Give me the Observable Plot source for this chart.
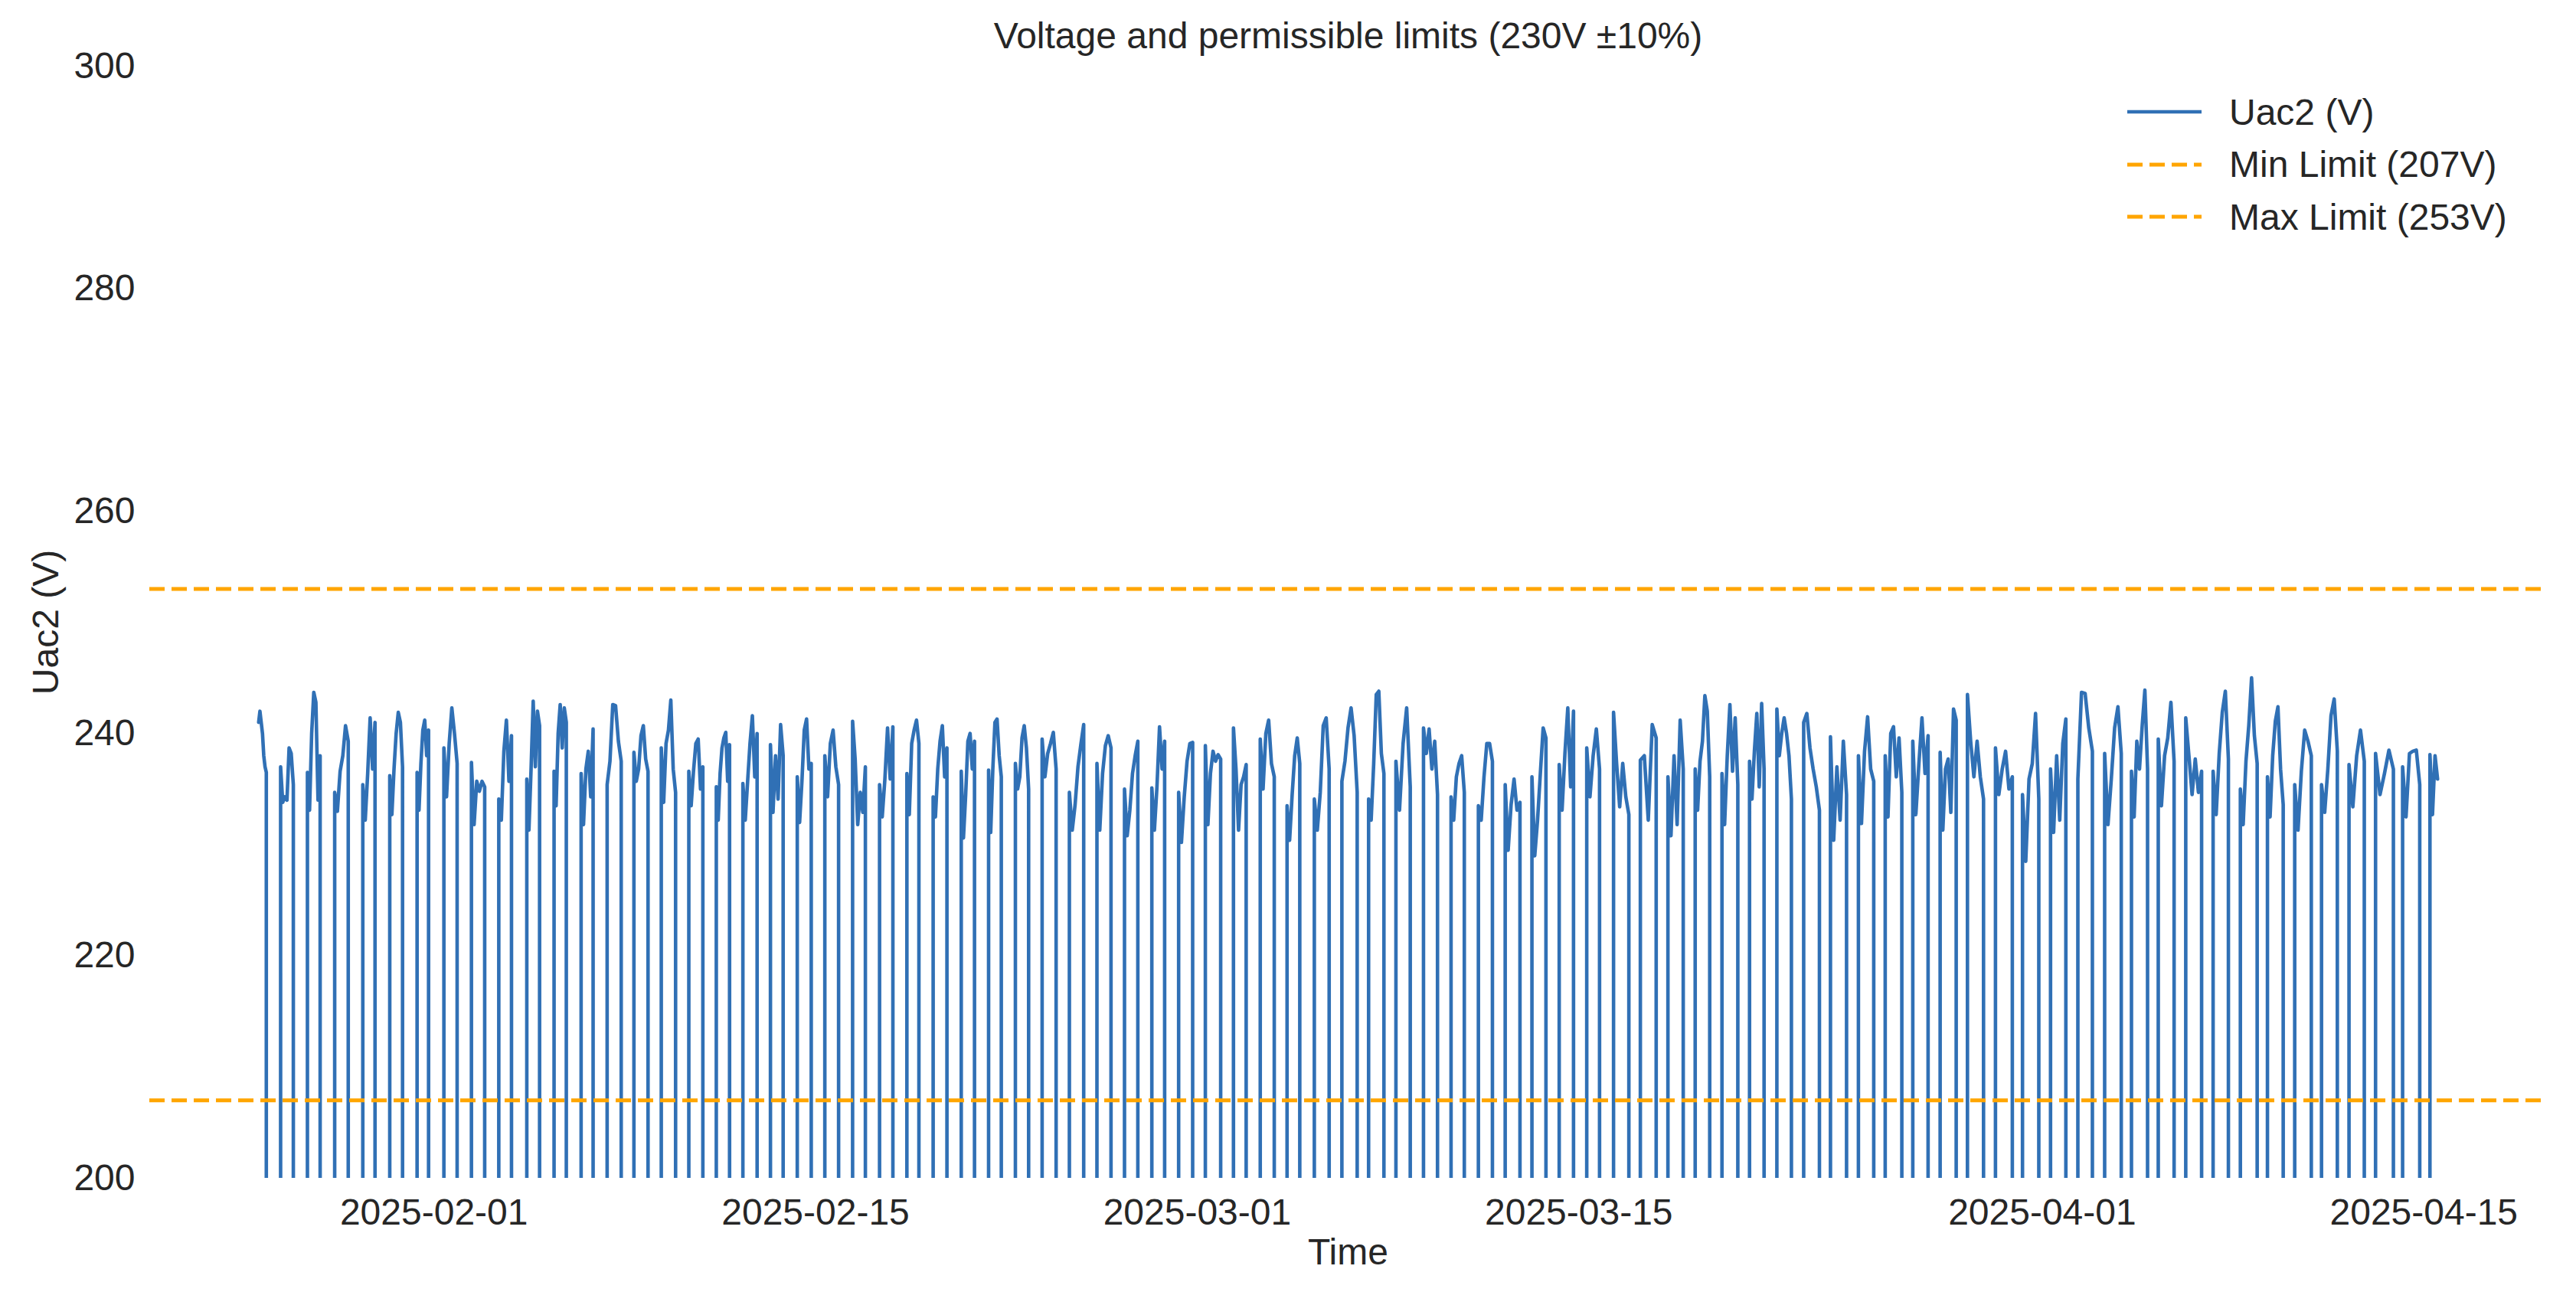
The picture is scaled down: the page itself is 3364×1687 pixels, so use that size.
<!DOCTYPE html>
<html><head><meta charset="utf-8">
<script src="https://cdn.jsdelivr.net/npm/d3@7"></script>
<script src="https://cdn.jsdelivr.net/npm/@observablehq/plot@0.6"></script>
<style>
html,body{margin:0;padding:0;background:#fff;}
#wrap{position:relative;width:3364px;height:1687px;overflow:hidden;font-family:"Liberation Sans",Arial,sans-serif;color:#262626;}
#legend{position:absolute;left:2778px;top:112px;font-size:48px;}
.row{display:flex;align-items:center;height:68.5px;white-space:nowrap;}
.row svg{margin-right:36px;flex:none;}
</style></head>
<body><div id="wrap"><div id="legend"></div></div>
<script>
// ---- data ----
const titleText = "Voltage and permissible limits (230V \u00b110%)";
const xLabel = "Time";
const yLabel = "Uac2 (V)";
const yTicks = [200, 220, 240, 260, 280, 300];
const xTickLabels = ["2025-02-01", "2025-02-15", "2025-03-01", "2025-03-15", "2025-04-01", "2025-04-15"];
const limitValues = [207, 253];
const legendLabels = ["Uac2 (V)", "Min Limit (207V)", "Max Limit (253V)"];

// start of each day's measured segment (local clock as plotted)
const dayStart = [
"2025-01-25T13:40","2025-01-26T09:00","2025-01-27T08:37","2025-01-28T08:37","2025-01-29T09:22","2025-01-30T09:06","2025-01-31T09:10",
"2025-02-01T08:46","2025-02-02T09:01","2025-02-03T09:06","2025-02-04T09:46","2025-02-05T09:46","2025-02-06T09:35","2025-02-07T08:30",
"2025-02-08T08:05","2025-02-09T08:10","2025-02-10T08:25","2025-02-11T08:37","2025-02-12T08:01","2025-02-13T08:17","2025-02-14T07:54",
"2025-02-15T08:10","2025-02-16T08:37","2025-02-17T08:21","2025-02-18T08:25","2025-02-19T07:32","2025-02-20T08:17","2025-02-21T08:21",
"2025-02-22T07:57","2025-02-23T07:29","2025-02-24T07:29","2025-02-25T07:45","2025-02-26T08:01","2025-02-27T08:05","2025-02-28T07:41",
"2025-03-01T07:12","2025-03-02T07:57","2025-03-03T07:32","2025-03-04T07:09","2025-03-05T07:09","2025-03-06T07:25","2025-03-07T06:56",
"2025-03-08T07:00","2025-03-09T07:16","2025-03-10T07:32","2025-03-11T07:36","2025-03-12T07:12","2025-03-13T06:45","2025-03-14T06:45",
"2025-03-15T07:00","2025-03-16T06:36","2025-03-17T06:12","2025-03-18T06:29","2025-03-19T06:29","2025-03-20T06:04","2025-03-21T06:20",
"2025-03-22T06:24","2025-03-23T06:00","2025-03-24T05:35","2025-03-25T06:12","2025-03-26T05:47","2025-03-27T06:04","2025-03-28T06:09",
"2025-03-29T06:12","2025-03-30T06:52","2025-03-31T06:40","2025-04-01T07:21","2025-04-02T07:25","2025-04-03T07:00","2025-04-04T06:36",
"2025-04-05T06:12","2025-04-06T06:24","2025-04-07T06:29","2025-04-08T06:29","2025-04-09T06:20","2025-04-10T06:20","2025-04-11T05:56",
"2025-04-12T06:09","2025-04-13T05:31","2025-04-14T05:20","2025-04-15T05:24"];

// end of each day's segment (same date)
const dayEnd = [
"20:25","20:12","19:48","20:33","20:08","20:21","19:16",
"20:25","20:41","20:17","21:01","20:33","20:08","20:53",
"20:30","20:46","20:46","20:17","20:33","19:28","20:12",
"20:17","19:52","20:05","19:00","19:41","19:57","19:32",
"19:36","19:48","20:05","20:08","19:45","19:21","20:01",
"20:41","19:08","19:52","18:20","20:12","20:53","20:25",
"19:36","19:36","19:12","19:57","20:12","19:05","19:21",
"18:16","20:05","20:08","19:57","19:16","20:01","19:08",
"19:12","19:52","19:45","19:41","20:25","19:32","20:17",
"20:21","21:42","21:01","20:50","20:12","21:37","20:46",
"20:08","20:21","19:57","21:17","20:12","20:57","19:52",
"19:36","21:13","20:25","12:07"];

// voltage readings through each day (V), in time order
const dailyValues = [
[241,242,241,240,238,237,236.5],
[237,233.8,234.3,234,238.7,238.2,235.4],
[236.5,233.1,240,243.7,242.8,234,238],
[234.7,233,236.6,238,240.7,239.3],
[235.4,232.2,236.4,241.4,236.8,241],
[236.2,232.7,236.8,240,241.9,241,237],
[236.5,233.1,237.3,240.3,241.2,238,240.3],
[238.7,234.3,239.1,242.3,240,237.3],
[237.4,231.8,235.7,234.8,235.7,235.2],
[234.1,232.2,238.4,241.2,235.7,239.8],
[235.9,231.3,236.8,242.9,237,242,240.7],
[236.6,233.5,240,242.6,238.7,242.3,241],
[236.4,231.8,236.8,238.4,234.3,240.4],
[235.4,237.5,242.6,242.5,239.3,237.5],
[238.3,235.7,236.8,239.8,240.7,237.7,236.6],
[238.7,233.8,239.1,240.3,243,236.8,234.7],
[236.6,233.5,236.6,239.1,239.5,235,237],
[235.2,232.2,236.4,238.7,239.6,240.1,235.7,239],
[235.5,232.2,235.7,239.1,241.6,236.1,240],
[239,232.9,238,234.1,240.8,238],
[236.1,232,235.7,240.3,241.3,236.8,237.3],
[238,234.3,239.1,240.3,237,235.4],
[241.1,237.7,231.8,234.7,232.9,237],
[235.4,232.5,235.9,240.5,235.9,240.6],
[236.4,232.7,239.1,240.3,241.2,239.1],
[234.3,232.5,236.8,239.3,240.7,236.1,238.7],
[236.6,230.6,234.5,239.3,240,236.8,239.3],
[236.7,231.1,236.8,241,241.3,238,236.1],
[237.3,235,236.1,239.6,240.7,238.7,235],
[239.5,236.1,238.2,239.1,240.1,236.8],
[234.7,231.3,233.6,237,239,240.8],
[237.3,231.3,236.4,238.9,239.8,238.7],
[235,230.8,233.1,236.4,238,239.3],
[235.1,231.3,235.2,240.6,236.8,239.3],
[234.7,230.2,234.3,237.5,239.1,239.2],
[238.9,231.8,236.4,238.4,237.5,238.1,237.7],
[240.5,236.8,231.3,235.4,236.1,237.2],
[239.5,235,240,241.2,237.3,236.1],
[233.5,230.4,234.5,238,239.6,237.3],
[234.1,231.3,234.7,240.7,241.4,236.8],
[235.7,237.5,240.5,242.3,239.8,234.7],
[234.1,232.2,237.3,243.5,243.8,238.2,236.4],
[237.5,233.1,239.1,242.3,235.2],
[240.5,238.2,240.4,236.8,239.3,234.5],
[234.3,232.2,236.1,237.3,238,234.7],
[233.5,232.2,236.1,239.1,239.1,237.5],
[235.4,229.5,233.6,235.9,233.1,233.8],
[236.1,229,232.2,236.4,240.5,239.6],
[237.2,233.1,238.2,242.3,235.2,242],
[238.7,234.3,238,240.4,236.8],
[241.9,237.3,233.4,237.3,234.3,232.7],
[237.6,238,232.2,240.8,239.6],
[236.1,230.8,238,231.8,241.2,236.8],
[236.8,233.1,237.5,239.3,243.4,242,236.1],
[236.4,231.8,238,242.6,236.6,241.4,235.4],
[237.5,234.1,238.4,241.8,235.2,242.7,236.8],
[242.2,238,240,241.4,240,238,234.1],
[241,241.8,238.7,236.8,235.2,233.1],
[239.7,230.4,237,232.2,239.3,234.5],
[238,231.9,238.4,241.5,236.8,235.7],
[238,232.5,240,240.6,236.1,239.6,234.7],
[239.3,232.7,237.3,241.4,236.4,239.8],
[238.3,231.3,236.8,237.7,232.9,242.2,241.2],
[243.5,239.3,236.1,239.3,236.1,234.1],
[238.7,234.5,236.8,238.4,235,236.1],
[234.5,228.5,235.9,237.3,241.8,234.1],
[236.8,231.1,238,232.2,239.1,241.3],
[235.9,243.7,243.6,240.5,238.4],
[238.2,231.8,235.9,240.5,242.4,238.2],
[236.6,232.5,239.3,236.8,240.7,243.9,236.8],
[239.5,233.5,238,239.6,242.8,237.5],
[241.4,238,234.5,237.7,234.7,236.6],
[236.6,232.7,238.2,241.9,243.8,237.7],
[235,231.8,237.5,240.7,245,239.8,237.3],
[236.1,232.5,238,241.1,242.4,236.8,233.6],
[235.4,231.3,236.6,240.3,239.3,238],
[235.4,232.9,236.8,241.6,243.1,238.4],
[237.2,233.4,238,240.3,237.5],
[238.2,234.5,236.4,238.5,236.8],
[237,232.5,238.2,238.4,238.5,235.4],
[238.1,232.7,238,235.9]
];
const nightValue = 0; // inverter off between segments

// ---- build table ----
const BLUE = "#3070b5";
const ORANGE = "orange";
const points = [];
const MIN = 60000;
dailyValues.forEach((vals, i) => {
  const t0 = Date.parse(dayStart[i] + ":00Z");
  const t1 = Date.parse(dayStart[i].slice(0, 10) + "T" + dayEnd[i] + ":00Z");
  if (i > 0) points.push({t: new Date(t0 - MIN), v: nightValue});
  vals.forEach((v, j) => points.push({t: new Date(t0 + (t1 - t0) * j / (vals.length - 1)), v}));
  if (i < dailyValues.length - 1) points.push({t: new Date(t1 + MIN), v: nightValue});
});
const [tA, tB] = d3.extent(points, d => d.t);
const pad = (tB - tA) * 0.05;
const xDomain = [new Date(+tA - pad), new Date(+tB + pad)];
const xTicks = xTickLabels.map(s => new Date(s + "T00:00:00Z"));

const chart = Plot.plot({
  width: 3364, height: 1687,
  marginTop: 86, marginBottom: 149, marginLeft: 195, marginRight: 39,
  style: {fontFamily: '"Liberation Sans", Arial, sans-serif', fontSize: "48px", color: "#262626", background: "#fff", overflow: "visible"},
  x: {type: "utc", domain: xDomain, label: null},
  y: {domain: [200, 300], label: null},
  marks: [
    Plot.line(points, {x: "t", y: "v", stroke: BLUE, strokeWidth: 4.6, strokeLinejoin: "round", clip: true}),
    Plot.ruleY(limitValues, {stroke: ORANGE, strokeWidth: 5, strokeDasharray: "20,9"}),
    Plot.axisX({ticks: xTicks, tickFormat: d3.utcFormat("%Y-%m-%d"), tickSize: 0, tickPadding: 26, label: null, fontSize: 48}),
    Plot.axisY({ticks: yTicks, tickSize: 0, tickPadding: 19, label: null, fontSize: 48}),
    Plot.text([titleText], {frameAnchor: "top", dy: -39, text: d => d, fontSize: 48, textAnchor: "middle", lineAnchor: "middle", fill: "#262626"}),
    Plot.text([xLabel], {frameAnchor: "bottom", dy: 97, text: d => d, fontSize: 48, textAnchor: "middle", lineAnchor: "middle", fill: "#262626"}),
    Plot.text([yLabel], {frameAnchor: "left", dx: -135, rotate: -90, text: d => d, fontSize: 48, textAnchor: "middle", lineAnchor: "middle", fill: "#262626"})
  ]
});
document.getElementById("wrap").prepend(chart);

// legend
const legendColors = [BLUE, ORANGE, ORANGE];
const legendDash = [null, "20,9", "20,9"];
const lg = document.getElementById("legend");
legendLabels.forEach((lab, i) => {
  const row = document.createElement("div");
  row.className = "row";
  const ns = "http://www.w3.org/2000/svg";
  const s = document.createElementNS(ns, "svg");
  s.setAttribute("width", 97); s.setAttribute("height", 12);
  const l = document.createElementNS(ns, "line");
  l.setAttribute("x1", 0); l.setAttribute("x2", 97); l.setAttribute("y1", 6); l.setAttribute("y2", 6);
  l.setAttribute("stroke", legendColors[i]); l.setAttribute("stroke-width", i === 0 ? 4.5 : 5);
  if (legendDash[i]) l.setAttribute("stroke-dasharray", legendDash[i]);
  s.appendChild(l);
  const sp = document.createElement("span");
  sp.textContent = lab;
  row.appendChild(s); row.appendChild(sp);
  lg.appendChild(row);
});
</script></body></html>
